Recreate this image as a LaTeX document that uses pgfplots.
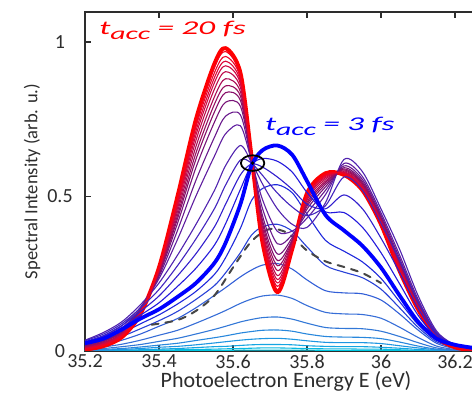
\documentclass[border=0pt]{standalone}
\usepackage{fontspec}
\setmainfont{Carlito}
\newfontfamily\annfont[FakeStretch=1.7]{Carlito}
\usepackage{pgfplots}
\pgfplotsset{compat=1.18}
\usepackage{pgfplotstable}

\definecolor{axgray}{RGB}{45,45,45}
\definecolor{cL8}{RGB}{0,200,225}
\definecolor{cL7}{RGB}{10,185,225}
\definecolor{cL6}{RGB}{20,165,225}
\definecolor{cL5}{RGB}{30,150,225}
\definecolor{cL4}{RGB}{40,135,220}
\definecolor{cL3}{RGB}{50,120,215}
\definecolor{cL2}{RGB}{55,110,215}
\definecolor{cA}{RGB}{50,95,215}
\definecolor{cM1}{RGB}{40,65,215}
\definecolor{cM2}{RGB}{30,40,220}
\definecolor{cT}{RGB}{0,0,255}
\definecolor{cN1}{RGB}{35,25,220}
\definecolor{cN2}{RGB}{50,30,205}
\definecolor{cN3}{RGB}{65,35,190}
\definecolor{cP}{RGB}{80,35,175}
\definecolor{cS1}{RGB}{95,30,160}
\definecolor{cS2}{RGB}{105,25,140}
\definecolor{cS3}{RGB}{120,20,120}
\definecolor{cS4}{RGB}{135,15,105}
\definecolor{cS5}{RGB}{150,15,95}
\definecolor{cS6}{RGB}{170,12,85}
\definecolor{cS7}{RGB}{190,10,75}
\definecolor{cS8}{RGB}{205,8,65}
\definecolor{cS9}{RGB}{220,6,55}
\definecolor{cS10}{RGB}{235,4,40}
\definecolor{cS11}{RGB}{245,2,25}
\definecolor{cR}{RGB}{255,0,0}
\definecolor{dashgray}{RGB}{70,70,70}

% spectra: x = photoelectron energy (eV), one column per delay
\pgfplotstableread{
x     L8   L7   L6   L5   L4   L3   L2   A    M1   M2   T    N1   N2   N3   P    S1   S2   S3   S4   S5   S6   S7   S8   S9   S10  S11  R
35.20 .000 .000 .001 .001 .002 .004 .006 .010 .015 .020 .025 .028 .030 .033 .035 .027 .022 .018 .016 .014 .012 .010 .009 .007 .006 .005 .004
35.25 .000 .001 .002 .003 .005 .008 .013 .020 .027 .033 .040 .045 .050 .055 .060 .048 .042 .036 .033 .030 .027 .025 .023 .021 .019 .017 .016
35.30 .000 .001 .003 .005 .008 .014 .022 .035 .047 .058 .070 .076 .083 .089 .095 .082 .074 .068 .064 .061 .058 .055 .053 .051 .049 .047 .045
35.35 .001 .002 .004 .008 .013 .021 .035 .055 .072 .088 .105 .116 .128 .139 .150 .142 .137 .134 .131 .130 .128 .126 .125 .123 .122 .121 .120
35.40 .001 .003 .006 .012 .019 .031 .051 .080 .098 .117 .135 .156 .178 .199 .220 .234 .241 .247 .251 .254 .257 .260 .263 .265 .267 .269 .270
35.45 .001 .004 .008 .015 .025 .041 .067 .105 .128 .152 .175 .209 .243 .276 .310 .361 .390 .413 .428 .439 .451 .462 .472 .479 .487 .494 .500
35.50 .002 .005 .011 .020 .034 .055 .090 .140 .167 .193 .220 .268 .315 .363 .410 .502 .553 .594 .621 .641 .662 .682 .699 .713 .726 .740 .750
35.55 .002 .006 .014 .026 .043 .070 .115 .180 .212 .248 .285 .343 .402 .461 .520 .631 .692 .741 .774 .799 .823 .848 .869 .885 .901 .918 .930
35.58 .002 .007 .015 .030 .049 .080 .131 .205 .253 .302 .350 .412 .475 .537 .600 .703 .760 .805 .836 .858 .881 .904 .923 .938 .953 .969 .980
35.62 .003 .008 .018 .035 .058 .094 .154 .240 .318 .397 .475 .523 .570 .618 .665 .729 .764 .792 .811 .825 .839 .853 .865 .874 .884 .893 .900
35.65 .003 .009 .020 .038 .063 .102 .168 .262 .375 .487 .600 .602 .605 .608 .610 .615 .618 .621 .622 .624 .625 .626 .627 .628 .629 .629 .630
35.68 .003 .010 .021 .040 .067 .108 .178 .278 .402 .526 .650 .623 .595 .568 .540 .489 .460 .437 .422 .411 .399 .388 .379 .371 .363 .356 .350
35.72 .003 .010 .021 .041 .068 .110 .181 .283 .410 .538 .665 .614 .563 .511 .460 .387 .347 .314 .293 .276 .260 .244 .231 .220 .209 .198 .190
35.76 .003 .009 .020 .038 .064 .103 .170 .265 .388 .512 .635 .579 .523 .466 .410 .388 .376 .367 .360 .356 .351 .346 .342 .339 .336 .332 .330
35.80 .003 .008 .017 .033 .055 .090 .147 .230 .337 .443 .550 .513 .475 .438 .400 .430 .446 .459 .468 .475 .481 .488 .494 .498 .502 .507 .510
35.85 .002 .007 .015 .028 .047 .076 .125 .195 .277 .358 .440 .450 .460 .470 .480 .506 .520 .531 .539 .545 .550 .556 .561 .565 .568 .572 .575
35.90 .002 .007 .014 .027 .045 .073 .120 .188 .255 .323 .390 .448 .505 .563 .620 .607 .599 .593 .589 .586 .583 .580 .578 .576 .574 .572 .570
35.95 .002 .006 .014 .027 .044 .072 .118 .185 .237 .288 .340 .400 .460 .520 .580 .564 .555 .548 .543 .539 .536 .532 .529 .527 .524 .522 .520
36.00 .002 .006 .012 .024 .040 .064 .106 .165 .200 .235 .270 .318 .365 .413 .460 .447 .439 .433 .429 .426 .423 .420 .418 .416 .414 .412 .410
36.05 .001 .004 .009 .017 .029 .047 .077 .120 .140 .160 .180 .218 .255 .293 .330 .311 .301 .292 .287 .282 .278 .274 .271 .268 .265 .262 .260
36.10 .001 .002 .005 .010 .016 .027 .044 .068 .077 .086 .095 .116 .138 .159 .180 .168 .161 .156 .152 .149 .147 .144 .142 .140 .138 .136 .135
36.15 .000 .001 .002 .004 .006 .010 .016 .025 .030 .035 .040 .046 .053 .059 .065 .060 .057 .054 .053 .051 .050 .049 .048 .047 .046 .046 .045
36.20 .000 .000 .001 .001 .002 .003 .005 .008 .012 .016 .020 .020 .020 .020 .020 .018 .017 .016 .015 .015 .014 .014 .013 .013 .013 .012 .012
36.25 .000 .000 .000 .000 .001 .001 .002 .003 .005 .008 .010 .009 .008 .006 .005 .004 .004 .003 .003 .003 .003 .003 .002 .002 .002 .002 .002
}\spectra

\pgfplotstableread{
x     y
35.38 .085
35.45 .100
35.50 .130
35.55 .180
35.60 .270
35.65 .355
35.70 .395
35.75 .380
35.80 .325
35.85 .290
35.90 .272
35.95 .252
36.00 .220
}\dashdata

\begin{document}
\begin{tikzpicture}[x=1pt,y=1pt]
\useasboundingbox (0,0) rectangle (472,395);
\begin{axis}[
  at={(85pt,44pt)}, anchor=south west,
  scale only axis, width=407pt, height=339pt,
  xmin=35.2, xmax=36.3, ymin=0, ymax=1.097,
  xtick={35.2,35.4,35.6,35.8,36,36.2},
  ytick={0,0.5,1},
  tick align=inside, major tick length=6pt,
  axis line style={line width=2pt, color=axgray},
  tick style={line width=1.5pt, color=axgray},
  /pgf/number format/assume math mode=true,
  ticklabel style={font=\fontsize{20}{20}\selectfont, text=axgray},
  yticklabel style={anchor=center, xshift=-25pt},
  xlabel={Photoelectron Energy E (eV)},
  ylabel={Spectral Intensity (arb. u.)},
  every axis x label/.style={at={(axis description cs:0.494,-0.1091)}, anchor=base, font=\fontsize{22}{22}\selectfont, text=axgray},
  every axis y label/.style={at={(axis description cs:-0.1302,0.5)}, anchor=center, rotate=90, font=\fontsize{18.5}{18.5}\selectfont, text=axgray},
  every axis plot/.append style={smooth, line join=round, line cap=round},
  thin curve/.style={line width=1.1pt},
  clip=true,
]
\addplot[color=cL8, thin curve] table[x=x, y=L8] {\spectra};
\addplot[color=cL7, thin curve] table[x=x, y=L7] {\spectra};
\addplot[color=cL6, thin curve] table[x=x, y=L6] {\spectra};
\addplot[color=cL5, thin curve] table[x=x, y=L5] {\spectra};
\addplot[color=cL4, thin curve] table[x=x, y=L4] {\spectra};
\addplot[color=cL3, thin curve] table[x=x, y=L3] {\spectra};
\addplot[color=cL2, thin curve] table[x=x, y=L2] {\spectra};
\addplot[color=cA, thin curve] table[x=x, y=A] {\spectra};
\addplot[color=cM1, thin curve] table[x=x, y=M1] {\spectra};
\addplot[color=cM2, thin curve] table[x=x, y=M2] {\spectra};
\addplot[color=dashgray, line width=2pt, dash pattern=on 7pt off 7pt] table[x=x,y=y] {\dashdata};
\addplot[color=cR, line width=4pt] table[x=x, y=R] {\spectra};
\addplot[color=cP, thin curve] table[x=x, y=P] {\spectra};
\addplot[color=cS1, thin curve] table[x=x, y=S1] {\spectra};
\addplot[color=cS2, thin curve] table[x=x, y=S2] {\spectra};
\addplot[color=cS3, thin curve] table[x=x, y=S3] {\spectra};
\addplot[color=cS4, thin curve] table[x=x, y=S4] {\spectra};
\addplot[color=cS5, thin curve] table[x=x, y=S5] {\spectra};
\addplot[color=cS6, thin curve] table[x=x, y=S6] {\spectra};
\addplot[color=cS7, thin curve] table[x=x, y=S7] {\spectra};
\addplot[color=cS8, thin curve] table[x=x, y=S8] {\spectra};
\addplot[color=cS9, thin curve] table[x=x, y=S9] {\spectra};
\addplot[color=cS10, thin curve] table[x=x, y=S10] {\spectra};
\addplot[color=cS11, thin curve] table[x=x, y=S11] {\spectra};
\addplot[color=cN3, thin curve] table[x=x, y=N3] {\spectra};
\addplot[color=cN2, thin curve] table[x=x, y=N2] {\spectra};
\addplot[color=cN1, thin curve] table[x=x, y=N1] {\spectra};
\addplot[color=cT, line width=3.8pt] table[x=x, y=T] {\spectra};
\addplot[only marks, mark=o, mark size=7.8pt, mark options={xscale=1.5, line width=1.8pt, black}] coordinates {(35.653,0.608)};
\addplot[only marks, mark=*, mark size=1.6pt, black] coordinates {(35.653,0.608)};
\node[anchor=base west, text=cR, font=\annfont\fontsize{19.5}{19.5}\selectfont\itshape, inner sep=0pt] at (axis cs:35.238,1.023) {t\raisebox{-5pt}{\fontsize{17.5}{17.5}\selectfont acc} = 20 fs};
\node[anchor=base west, text=cT, font=\annfont\fontsize{19.5}{19.5}\selectfont\itshape, inner sep=0pt] at (axis cs:35.686,0.715) {t\raisebox{-5pt}{\fontsize{17.5}{17.5}\selectfont acc} = 3 fs};
\end{axis}
\end{tikzpicture}
\end{document}
